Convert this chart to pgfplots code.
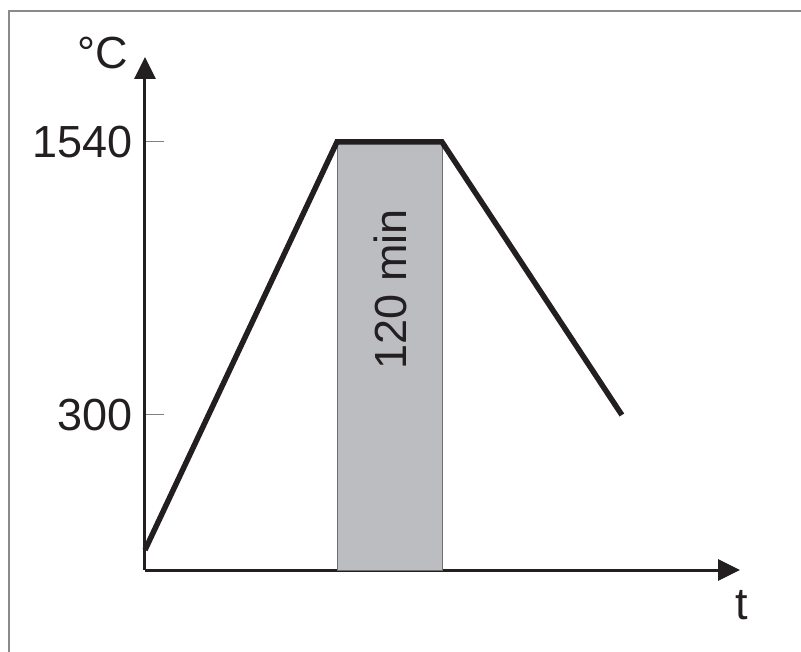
\documentclass[border=0pt]{standalone}
\usepackage{pgfplots}
\pgfplotsset{compat=1.18}
\usepackage{fontspec}
\setmainfont{Liberation Sans}
\usetikzlibrary{arrows.meta}
\definecolor{ink}{HTML}{231F20}
\definecolor{boxgray}{HTML}{BCBDC0}
\definecolor{boxedge}{HTML}{6D6E71}
\definecolor{frame}{HTML}{8A8A8A}
\begin{document}
\begin{tikzpicture}
\begin{axis}[
  at={(0,0)}, anchor=south west,
  scale only axis, width=595pt, height=513pt,
  xmin=0, xmax=680, ymin=-404, ymax=1926,
  axis lines=left,
  axis line style={line width=3pt, color=ink, -{Triangle[width=21pt,length=22pt]}},
  xtick=\empty,
  ytick={300,1540}, yticklabels={300,1540},
  major tick length=19pt,
  tick style={color=gray, line width=1pt},
  tick align=inside,
  yticklabel style={font=\fontsize{45}{45}\selectfont, color=ink, inner sep=0pt, xshift=-12pt},
  clip=false,
]
\addplot[fill=boxgray, draw=boxedge, line width=0.8pt] coordinates {(219.4,-404) (219.4,1540) (339.4,1540) (339.4,-404)} -- cycle;
\addplot[ink, line width=5.5pt, line join=miter] coordinates {(0,-313) (219.4,1540) (339.4,1540) (545,300)};
\node[rotate=90, font=\fontsize{45}{45}\selectfont, text=ink] at (axis cs:280,872) {120 min};
\node[anchor=base east, font=\fontsize{45}{45}\selectfont, text=ink, inner sep=0pt] at (axis cs:-19.4,1876) {°C};
\node[anchor=base, font=\fontsize{45}{45}\selectfont, text=ink, inner sep=0pt] at (axis cs:682,-631) {t};
\end{axis}
\draw[frame, line width=1.6pt] (-136pt,-100pt) rectangle (680pt,559pt);
\pgfresetboundingbox
\useasboundingbox (-145pt,-81pt) rectangle (656pt,570pt);
\end{tikzpicture}
\end{document}
